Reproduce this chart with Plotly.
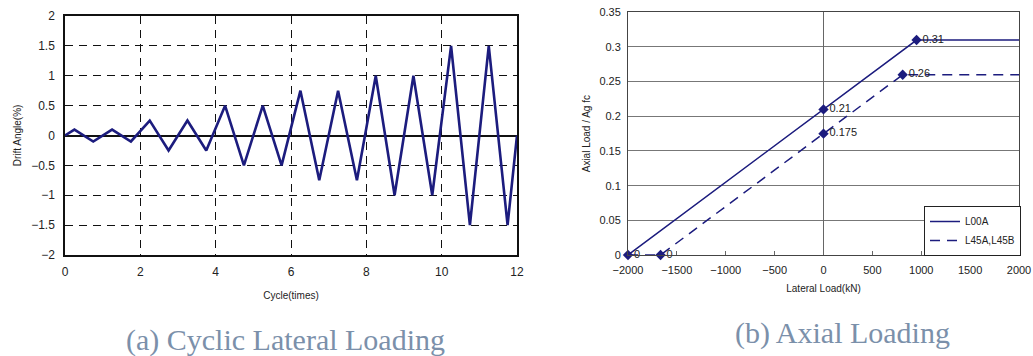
import plotly.graph_objects as go

# (a) cyclic lateral loading
cycle_x = [0, 0.25, 0.75, 1.25, 1.75, 2.25, 2.75, 3.25, 3.75, 4.25, 4.75, 5.25, 5.75,
           6.25, 6.75, 7.25, 7.75, 8.25, 8.75, 9.25, 9.75, 10.25, 10.75, 11.25, 11.75, 12]
drift_y = [0, 0.1, -0.1, 0.1, -0.1, 0.25, -0.25, 0.25, -0.25, 0.5, -0.5, 0.5, -0.5,
           0.75, -0.75, 0.75, -0.75, 1.0, -1.0, 1.0, -1.0, 1.5, -1.5, 1.5, -1.5, 0]

# (b) axial loading
l00a_x = [-2000, 0, 952, 2000]
l00a_y = [0, 0.21, 0.31, 0.31]
l00a_mx = [-2000, 0, 952]
l00a_my = [0, 0.21, 0.31]
l00a_lbl = ["0", "0.21", "0.31"]

l45_x = [-2000, -1667, 0, 810, 2000]
l45_y = [0, 0, 0.175, 0.26, 0.26]
l45_mx = [-1667, 0, 810]
l45_my = [0, 0.175, 0.26]
l45_lbl = ["0", "0.175", "0.26"]

W, H = 1033, 356
navy = "#1c1c7e"
sans = "Liberation Sans, Arial"
tickfont = dict(family=sans, size=12, color="#222")
tickfont2 = dict(family=sans, size=11, color="#222")
titlefont = dict(family=sans, size=10, color="#222")

fig = go.Figure()
fig.add_trace(go.Scatter(x=cycle_x, y=drift_y, mode="lines", line=dict(color=navy, width=2.6),
                         showlegend=False, xaxis="x", yaxis="y"))

fig.add_trace(go.Scatter(x=l00a_x, y=l00a_y, mode="lines", name="L00A",
                         line=dict(color=navy, width=1.5), xaxis="x2", yaxis="y2"))
fig.add_trace(go.Scatter(x=l45_x, y=l45_y, mode="lines", name="L45A,L45B",
                         line=dict(color=navy, width=1.5, dash="10px,7px"), xaxis="x2", yaxis="y2"))
fig.add_trace(go.Scatter(x=l00a_mx, y=l00a_my, mode="markers+text", text=l00a_lbl, cliponaxis=False,
                         textposition="middle right", textfont=dict(family=sans, size=11, color="#222"),
                         marker=dict(symbol="diamond", size=8, color=navy), showlegend=False,
                         xaxis="x2", yaxis="y2"))
fig.add_trace(go.Scatter(x=l45_mx, y=l45_my, mode="markers+text", text=l45_lbl, cliponaxis=False,
                         textposition="middle right", textfont=dict(family=sans, size=11, color="#222"),
                         marker=dict(symbol="diamond", size=8, color=navy), showlegend=False,
                         xaxis="x2", yaxis="y2"))

fig.update_layout(
    width=W, height=H, margin=dict(l=0, r=0, t=0, b=0, autoexpand=False),
    paper_bgcolor="white", plot_bgcolor="white",
    xaxis=dict(domain=[65 / W, 517 / W], range=[0, 12], dtick=2, tick0=0, automargin=False,
               showgrid=True, gridcolor="#111", griddash="8px,6px", gridwidth=1,
               zeroline=False, showline=True, linecolor="#111", linewidth=1.5, mirror=True,
               ticks="", tickfont=tickfont, ticklabelstandoff=5,
               title=dict(text="Cycle(times)", font=titlefont, standoff=14)),
    yaxis=dict(domain=[1 - 255 / H, 1 - 16 / H], range=[-2, 2], dtick=0.5, tick0=0, automargin=False,
               showgrid=True, gridcolor="#111", griddash="8px,6px", gridwidth=1,
               zeroline=True, zerolinecolor="#111", zerolinewidth=1.5,
               showline=True, linecolor="#111", linewidth=1.5, mirror=True,
               ticks="", tickfont=tickfont, anchor="x", ticklabelstandoff=6,
               title=dict(text="Drift Angle(%)", font=titlefont, standoff=8)),
    xaxis2=dict(domain=[628 / W, 1019 / W], range=[-2000, 2000], dtick=500, tick0=0, anchor="y2",
                automargin=False,
                showgrid=False, zeroline=True, zerolinecolor="#666", zerolinewidth=1,
                showline=True, linecolor="#444", linewidth=1, mirror=True,
                ticks="inside", ticklen=4, tickcolor="#666", tickfont=tickfont2, ticklabelstandoff=5,
                title=dict(text="Lateral Load(kN)", font=titlefont, standoff=9)),
    yaxis2=dict(domain=[1 - 255 / H, 1 - 12.3 / H], range=[0, 0.35], dtick=0.05, tick0=0, anchor="x2",
                automargin=False,
                showgrid=True, gridcolor="#777", gridwidth=1, zeroline=False,
                showline=True, linecolor="#444", linewidth=1, mirror=True,
                ticks="", tickfont=tickfont2, ticklabelstandoff=4,
                title=dict(text="Axial Load / Ag fc", font=titlefont, standoff=6)),
    legend=dict(x=1021 / W, y=1 - 256 / H, xanchor="right", yanchor="bottom", bgcolor="white",
                bordercolor="#222", borderwidth=1, font=dict(family=sans, size=10, color="#222"),
                tracegroupgap=0, itemwidth=30),
    annotations=[
        dict(text="(a) Cyclic Lateral Loading", x=285 / W, y=1 - 340 / H, xref="paper", yref="paper",
             xanchor="center", yanchor="middle",
             showarrow=False, font=dict(family="Liberation Serif, serif", size=30, color="#7b90aa")),
        dict(text="(b) Axial Loading", x=842 / W, y=1 - 333 / H, xref="paper", yref="paper",
             xanchor="center", yanchor="middle",
             showarrow=False, font=dict(family="Liberation Serif, serif", size=30, color="#7b90aa")),
    ],
)

fig.write_html("out.html", config={"displayModeBar": False},
               post_script="document.body.style.margin='0';")
